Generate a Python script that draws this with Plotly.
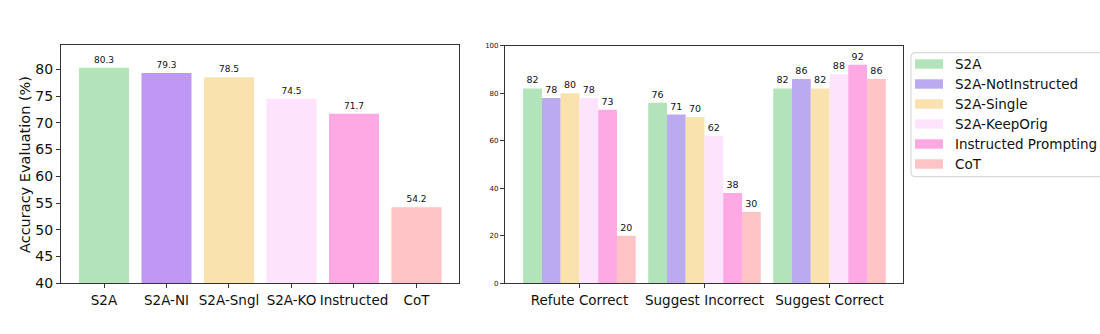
import plotly.graph_objects as go

W, H = 1100, 334

# Left panel: overall accuracy per method
methods = ["S2A", "S2A-NI", "S2A-Sngl", "S2A-KO", "Instructed", "CoT"]
accuracy = [80.3, 79.3, 78.5, 74.5, 71.7, 54.2]
left_colors = ["#b3e3b9", "#bf98f6", "#fae2ae", "#fee3fc", "#fea8e4", "#ffc3c5"]

# Right panel: accuracy by prompt type for each variant
prompt_types = ["Refute Correct", "Suggest Incorrect", "Suggest Correct"]
series_names = ["S2A", "S2A-NotInstructed", "S2A-Single", "S2A-KeepOrig",
                "Instructed Prompting", "CoT"]
s2a = [82, 76, 82]
s2a_not_instructed = [78, 71, 86]
s2a_single = [80, 70, 82]
s2a_keep_orig = [78, 62, 88]
instructed_prompting = [73, 38, 92]
cot = [20, 30, 86]
series_values = [s2a, s2a_not_instructed, s2a_single, s2a_keep_orig,
                 instructed_prompting, cot]
right_colors = ["#b3e3b9", "#bcaaf1", "#fae2ae", "#fee3fc", "#fea8e4", "#ffc3c5"]

FONT = "DejaVu Sans"
AXIS_LINE = "#333333"


def px_x(p):
    return p / W


def px_y(p):
    return 1 - p / H


fig = go.Figure()

fig.add_trace(go.Bar(
    x=methods, y=accuracy, marker_color=left_colors, marker_line_width=0,
    text=[f"{v:.1f}" for v in accuracy], textposition="outside",
    textfont=dict(family=FONT, size=9, color="#111"), cliponaxis=False,
    xaxis="x", yaxis="y", showlegend=False, width=0.8,
))

for name, vals, col in zip(series_names, series_values, right_colors):
    fig.add_trace(go.Bar(
        x=prompt_types, y=vals, name=name, marker_color=col, marker_line_width=0,
        text=[str(v) for v in vals], textposition="outside",
        textfont=dict(family=FONT, size=9.5, color="#111"), cliponaxis=False,
        xaxis="x2", yaxis="y2", showlegend=False,
    ))

axis_common = dict(showline=True, linecolor=AXIS_LINE, linewidth=1.2, mirror=True,
                   showgrid=False, zeroline=False, ticks="outside", ticklen=4,
                   tickcolor=AXIS_LINE, automargin=False)

fig.update_layout(
    width=W, height=H, margin=dict(l=0, r=0, t=0, b=0),
    paper_bgcolor="white", plot_bgcolor="white",
    barmode="group", bargap=0.1, bargroupgap=0,
    xaxis=dict(domain=[px_x(61), px_x(459.3)], range=[-0.688, 5.685],
               tickfont=dict(family=FONT, size=13.5, color="#111"), **axis_common),
    yaxis=dict(domain=[px_y(283.3), px_y(45)], range=[40, 84.54], dtick=5,
               tickfont=dict(family=FONT, size=14, color="#111"),
               anchor="x", **axis_common),
    xaxis2=dict(domain=[px_x(505), px_x(903.3)], range=[-0.595, 2.59],
                tickfont=dict(family=FONT, size=13.5, color="#111"),
                anchor="y2", **axis_common),
    yaxis2=dict(domain=[px_y(283.3), px_y(45.7)], range=[0, 100], dtick=20,
                tickfont=dict(family=FONT, size=7, color="#111"),
                anchor="x2", **axis_common),
)

# Y-axis title of the left panel
fig.add_annotation(x=px_x(25), y=px_y(165), xref="paper", yref="paper",
                   text="Accuracy Evaluation (%)", textangle=-90, showarrow=False,
                   xanchor="center", yanchor="middle",
                   font=dict(family=FONT, size=14.5, color="#111"))

# Legend drawn as a framed box with colour patches and labels
bx0, bx1, by0, by1, r = 911, 1106, 52.7, 176.7, 4
path = (f"M {px_x(bx0 + r)},{px_y(by0)} L {px_x(bx1 - r)},{px_y(by0)} "
        f"Q {px_x(bx1)},{px_y(by0)} {px_x(bx1)},{px_y(by0 + r)} "
        f"L {px_x(bx1)},{px_y(by1 - r)} Q {px_x(bx1)},{px_y(by1)} {px_x(bx1 - r)},{px_y(by1)} "
        f"L {px_x(bx0 + r)},{px_y(by1)} Q {px_x(bx0)},{px_y(by1)} {px_x(bx0)},{px_y(by1 - r)} "
        f"L {px_x(bx0)},{px_y(by0 + r)} Q {px_x(bx0)},{px_y(by0)} {px_x(bx0 + r)},{px_y(by0)} Z")
fig.add_shape(type="path", path=path, xref="paper", yref="paper",
              line=dict(color="#d0d0d0", width=1), fillcolor="rgba(255,255,255,0.8)")

for i, (name, col) in enumerate(zip(series_names, right_colors)):
    cy = 64 + 20 * i
    fig.add_shape(type="rect", xref="paper", yref="paper",
                  x0=px_x(915), x1=px_x(943), y0=px_y(cy + 4.7), y1=px_y(cy - 4.7),
                  line=dict(width=0), fillcolor=col)
    fig.add_annotation(x=px_x(953), y=px_y(cy), xref="paper", yref="paper",
                       text=name, showarrow=False, xanchor="left", yanchor="middle",
                       font=dict(family=FONT, size=13.5, color="#111"))

fig.write_html("out.html")
